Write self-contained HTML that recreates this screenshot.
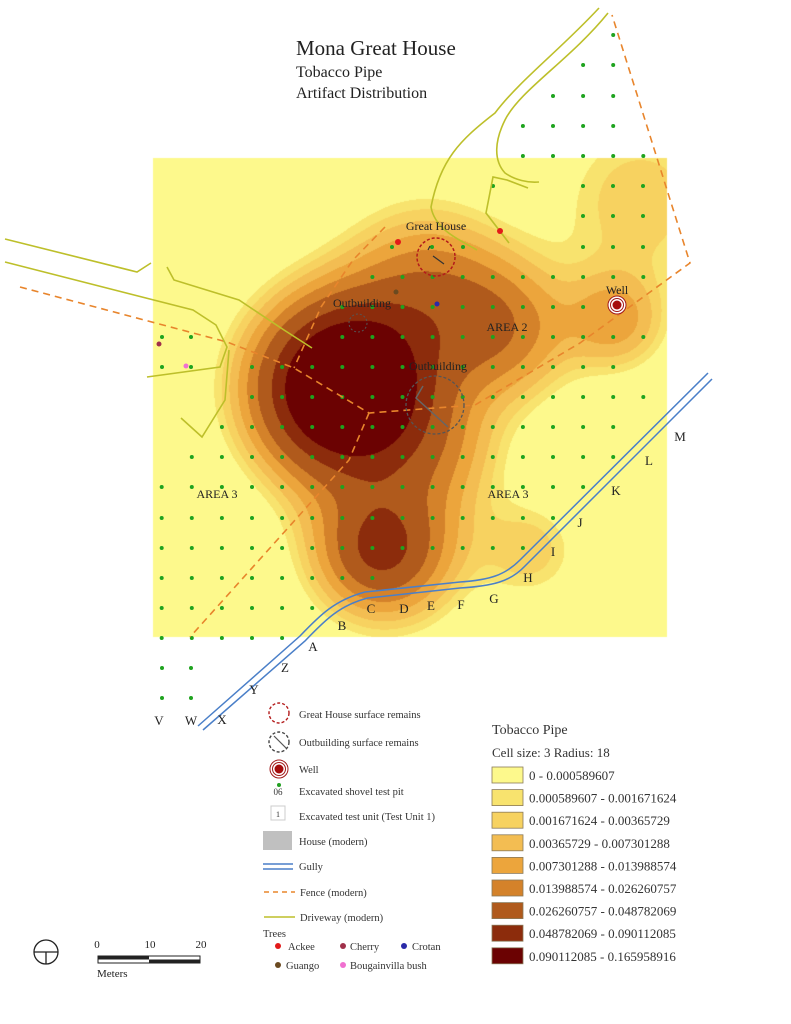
<!DOCTYPE html>
<html><head><meta charset="utf-8">
<style>
html,body{margin:0;padding:0;background:#fff;}
#wrap{position:relative;width:791px;height:1024px;}
#cv{position:absolute;left:0;top:0;}
svg{position:absolute;left:0;top:0;display:block;font-family:"Liberation Serif",serif;}
</style></head><body>
<div id="wrap">
<canvas id="cv" width="791" height="1024"></canvas>
<svg id="s" width="791" height="1024" viewBox="0 0 791 1024" xmlns="http://www.w3.org/2000/svg">
<text x="296" y="55" font-size="21" fill="#222">Mona Great House</text>
<text x="296" y="77" font-size="16" fill="#222">Tobacco Pipe</text>
<text x="296" y="98" font-size="16" fill="#222">Artifact Distribution</text>
<g id="dots"></g>
<g fill="none" stroke="#e8852c" stroke-width="1.6" stroke-dasharray="7,5">
<polyline points="20,287 227,342 294,368 369,413 475,405 580,343 690,263 612,15"/>
<polyline points="385,227 353,260 321,307 294,368"/>
<polyline points="369,413 349,460 190,637"/>
</g>
<g fill="none" stroke="#bdbf2a" stroke-width="1.6">
<polyline points="5,239 137,272 151,263"/>
<polyline points="5,262 193,310 216,325 227,347 220,367 147,377"/>
<polyline points="167,267 174,280 239,300 284,330 312,348"/>
<polyline points="229,350 225,400 202,437 181,418"/>
<path d="M599,8 C560,50 520,80 495,113 C460,140 440,160 431,207 C435,230 460,240 477,250"/>
<path d="M608,13 C570,60 520,90 505,120 C495,140 493,160 505,173 C515,180 528,183 539,182"/>
<polyline points="528,188 507,180 493,177 486,213 509,243"/>
</g>
<g fill="none" stroke="#4a7fc8" stroke-width="1.5">
<path d="M198,726 L300,636 C320,615 335,600 365,592 L460,582 C490,580 505,575 520,560 L708,373"/>
<path d="M203,730 L305,641 C325,620 340,605 368,598 L460,588 C492,586 510,582 525,566 L712,379"/>
</g>
<circle cx="436" cy="257" r="19" fill="none" stroke="#b31b1b" stroke-width="1.5" stroke-dasharray="3,2"/>
<path d="M428,250 L430,246 M433,256 L444,264" stroke="#333" stroke-width="1.2"/>
<circle cx="358" cy="323" r="9" fill="none" stroke="#555" stroke-width="1" stroke-dasharray="2,2"/>
<circle cx="435" cy="405" r="29" fill="none" stroke="#555" stroke-width="1.3" stroke-dasharray="3,2"/>
<path d="M423,386 L416,398 L448,427" fill="none" stroke="#666" stroke-width="1.5"/>
<circle cx="617" cy="305" r="9" fill="#fff" stroke="#a21a1a" stroke-width="1"/>
<circle cx="617" cy="305" r="6.5" fill="none" stroke="#a21a1a" stroke-width="1"/>
<circle cx="617" cy="305" r="4.5" fill="#a50d0d"/>
<circle cx="398" cy="242" r="3" fill="#e21a1a"/>
<circle cx="500" cy="231" r="3" fill="#e21a1a"/>
<circle cx="396" cy="292" r="2.5" fill="#6b4a20"/>
<circle cx="437" cy="304" r="2.5" fill="#2a2aa8"/>
<circle cx="159" cy="344" r="2.5" fill="#a0304a"/>
<circle cx="186" cy="366" r="2.5" fill="#f070d0"/>
<g font-size="12" fill="#222">
<text x="436" y="230" text-anchor="middle">Great House</text>
<text x="362" y="307" text-anchor="middle">Outbuilding</text>
<text x="438" y="370" text-anchor="middle">Outbuilding</text>
<text x="507" y="331" text-anchor="middle">AREA 2</text>
<text x="217" y="498" text-anchor="middle">AREA 3</text>
<text x="508" y="498" text-anchor="middle">AREA 3</text>
<text x="617" y="294" text-anchor="middle">Well</text>
</g>
<g font-size="13" fill="#222" text-anchor="middle">
<text x="313" y="651">A</text><text x="342" y="630">B</text><text x="371" y="613">C</text>
<text x="404" y="613">D</text><text x="431" y="610">E</text><text x="461" y="609">F</text>
<text x="494" y="603">G</text><text x="528" y="582">H</text><text x="553" y="556">I</text>
<text x="580" y="527">J</text><text x="616" y="495">K</text><text x="649" y="465">L</text>
<text x="680" y="441">M</text><text x="285" y="672">Z</text><text x="254" y="694">Y</text>
<text x="222" y="724">X</text><text x="191" y="725">W</text><text x="159" y="725">V</text>
</g>
<g font-size="10.5" fill="#333">
<circle cx="279" cy="713" r="10" fill="none" stroke="#b31b1b" stroke-width="1.4" stroke-dasharray="3,2"/>
<text x="299" y="718">Great House surface remains</text>
<circle cx="279" cy="742" r="10" fill="none" stroke="#444" stroke-width="1.4" stroke-dasharray="3,2"/>
<path d="M274,736 L286,748" stroke="#555" stroke-width="1.2"/>
<text x="299" y="746">Outbuilding surface remains</text>
<circle cx="279" cy="769" r="9" fill="none" stroke="#a21a1a"/>
<circle cx="279" cy="769" r="6.5" fill="none" stroke="#a21a1a"/>
<circle cx="279" cy="769" r="4.5" fill="#a50d0d"/>
<text x="299" y="773">Well</text>
<circle cx="279" cy="785" r="2" fill="#22a022"/>
<text x="278" y="795" text-anchor="middle" font-size="9">06</text>
<text x="299" y="795">Excavated shovel test pit</text>
<rect x="271" y="806" width="14" height="14" fill="#fff" stroke="#ccc"/>
<text x="278" y="817" text-anchor="middle" font-size="8">1</text>
<text x="299" y="820">Excavated test unit (Test Unit 1)</text>
<rect x="263" y="831" width="29" height="19" fill="#c0c0c0"/>
<text x="299" y="845">House (modern)</text>
<path d="M263,864 H293 M263,869 H293" stroke="#4a7fc8" stroke-width="1.4"/>
<text x="299" y="870">Gully</text>
<path d="M264,892 H295" stroke="#e8852c" stroke-width="1.4" stroke-dasharray="5,4"/>
<text x="300" y="896">Fence (modern)</text>
<path d="M264,917 H295" stroke="#bdbf2a" stroke-width="1.6"/>
<text x="300" y="921">Driveway (modern)</text>
<text x="263" y="937">Trees</text>
<circle cx="278" cy="946" r="3" fill="#e21a1a"/><text x="288" y="950">Ackee</text>
<circle cx="343" cy="946" r="3" fill="#a0304a"/><text x="350" y="950">Cherry</text>
<circle cx="404" cy="946" r="3" fill="#2a2aa8"/><text x="412" y="950">Crotan</text>
<circle cx="278" cy="965" r="3" fill="#6b4a20"/><text x="286" y="969">Guango</text>
<circle cx="343" cy="965" r="3" fill="#f070d0"/><text x="350" y="969">Bougainvilla bush</text>
</g>
<g font-size="13" fill="#333">
<text x="492" y="734" font-size="14">Tobacco Pipe</text>
<text x="492" y="757">Cell size: 3  Radius: 18</text>
</g>
<g id="leg" font-size="13" fill="#333"></g>
<g fill="#222" font-size="11">
<circle cx="46" cy="952" r="12" fill="none" stroke="#222" stroke-width="1.3"/>
<path d="M34,952 H58 M46,952 V964" stroke="#222" stroke-width="1.3"/>
<rect x="98" y="956" width="102" height="7" fill="#fff" stroke="#222"/>
<rect x="98" y="956" width="51" height="3.5" fill="#222"/>
<rect x="149" y="959.5" width="51" height="3.5" fill="#222"/>
<text x="97" y="948" text-anchor="middle">0</text>
<text x="150" y="948" text-anchor="middle">10</text>
<text x="201" y="948" text-anchor="middle">20</text>
<text x="97" y="977">Meters</text>
</g>
</svg>
</div>
<script>
var NS="http://www.w3.org/2000/svg";
var cols=["#fdf98c","#f8e36e","#f7d260","#f3bd52","#eca53c","#d4822a","#b05a1c","#8c2c0c","#6b0202"];
function hex(h){return [parseInt(h.substr(1,2),16),parseInt(h.substr(3,2),16),parseInt(h.substr(5,2),16)];}
var rgb=cols.map(hex);
var S=[[345,388,1.08,57],[385,545,0.4,50],[378,552,0.13,30],[500,330,0.28,48],[425,285,0.25,55],[440,450,0.15,45],[615,320,0.2,35],[640,200,0.13,58],[530,550,0.12,35]];
var T=[0.076,0.102,0.136,0.183,0.245,0.33,0.47,0.62];
var cv=document.getElementById("cv"),ctx=cv.getContext("2d");
var X0=153,Y0=158,W=514,H=479;
var img=ctx.createImageData(W,H),d=img.data;
for(var y=0;y<H;y++){for(var x=0;x<W;x++){var px=x+X0,py=y+Y0,f=0;
for(var s=0;s<S.length;s++){var dx=px-S[s][0],dy=py-S[s][1];f+=S[s][2]*Math.exp(-(dx*dx+dy*dy)/(2*S[s][3]*S[s][3]));}
var k=0;while(k<8&&f>=T[k])k++;var c=rgb[k],i=(y*W+x)*4;d[i]=c[0];d[i+1]=c[1];d[i+2]=c[2];d[i+3]=255;}}
ctx.putImageData(img,X0,Y0);
var L=document.getElementById("leg");
var labs=["0 - 0.000589607","0.000589607 - 0.001671624","0.001671624 - 0.00365729","0.00365729 - 0.007301288","0.007301288 - 0.013988574","0.013988574 - 0.026260757","0.026260757 - 0.048782069","0.048782069 - 0.090112085","0.090112085 - 0.165958916"];
for(var i=0;i<9;i++){var y=767+i*22.6;var r=document.createElementNS(NS,"rect");r.setAttribute("x",492);r.setAttribute("y",y);r.setAttribute("width",31);r.setAttribute("height",16);r.setAttribute("fill",cols[i]);r.setAttribute("stroke","#8a7a5a");r.setAttribute("stroke-width","0.8");L.appendChild(r);var t=document.createElementNS(NS,"text");t.setAttribute("x",529);t.setAttribute("y",y+13);t.textContent=labs[i];L.appendChild(t);}
var xs=[];for(var i=0;i<17;i++)xs.push(161.7+30.1*i);
function gy(x){if(x<345)return 725-(x-200)*135/145;if(x<510)return 590-(x-345)*0.12;return 570-(x-510)*195/200;}
var rows=[[35,612,612],[65,582,612],[96,552,612],[126,522,612],[156,522,643],[186,[493,583,613,643]],[216,[583,613,643]],[247,[392,432,463,583,613,643]],[277,372,643],[307,342,583],[337,[162,191]],[337,342,643],[367,[162,191]],[367,250,613],[397,250,643],[427,221,613],[457,191,613],[487,162,643],[518,162,643],[548,162,643],[578,162,643],[608,162,643],[638,162,643],[668,[162,191]],[698,[162,191]]];
var D=document.getElementById("dots");
function dot(x,y){var e=document.createElementNS(NS,"circle");e.setAttribute("cx",x);e.setAttribute("cy",y);e.setAttribute("r",2);e.setAttribute("fill","#1fa31f");D.appendChild(e);}
rows.forEach(function(r){var y=r[0];if(Array.isArray(r[1])){r[1].forEach(function(x){dot(x,y);});}else{xs.forEach(function(x){if(x>=r[1]-3&&x<=r[2]+3&&y<gy(x)-8)dot(x,y);});}});
</script>
</body></html>
